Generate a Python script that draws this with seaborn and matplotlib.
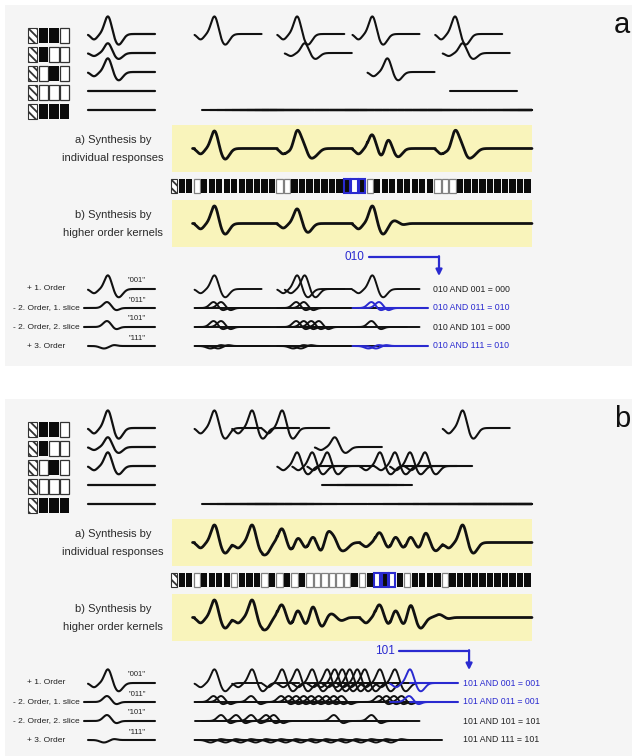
import numpy as np
import matplotlib
matplotlib.use("Agg")
import matplotlib.pyplot as plt
from matplotlib.patches import Rectangle
import seaborn as sns

# ---------------- data ----------------
# frame sequences: 1 = bright frame, 0 = dark frame (frame 0 is the hatched start marker)
seq_a = [0, 0, 0, 1, 0, 0, 0, 0, 0, 0,
         0, 0, 0, 0, 1, 1, 0, 0, 0, 0,
         0, 0, 0, 0, 1, 0, 1, 0, 0, 0,
         0, 0, 0, 0, 0, 1, 1, 1, 0, 0,
         0, 0, 0, 0, 0, 0, 0, 0]
seq_b = [0, 0, 0, 1, 0, 0, 0, 0, 1, 0,
         0, 0, 1, 0, 1, 0, 1, 0, 1, 1,
         1, 1, 1, 1, 0, 1, 0, 1, 0, 1,
         0, 1, 0, 0, 0, 0, 1, 0, 0, 0,
         0, 0, 0, 0, 0, 0, 0, 0]
window_a = [23, 24, 25]
window_b = [27, 28, 29]
window_label_a = "010"
window_label_b = "101"

# individual response rows: triplet pattern and peak height of its response
patterns = ["001", "011", "101", "111", "000"]
response_peak = [18, 10, 14, 0, 0]

# synthesis by higher order kernels: first-order onsets (frame index) and peak heights,
# plus the small residual bumps left by the higher orders
synth_b_frames_a = [3, 14, 24]
synth_b_peaks_a = [18, 15, 18]
synth_b_bump_frames_a = [27]
synth_b_bump_peaks_a = [3]
synth_b_frames_b = [3, 8, 12, 14, 16, 18, 25, 27, 29]
synth_b_peaks_b = [18, 18, 18, 18, 18, 5, 18, 18, 18]
synth_b_bump_frames_b = [19, 33]
synth_b_bump_peaks_b = [4, 3]

# kernel orders
order_labels = ["+ 1. Order", "- 2. Order, 1. slice", "- 2. Order, 2. slice", "+ 3. Order"]
order_names = ['"001"', '"011"', '"101"', '"111"']
order_peaks = [14, 6, 6, 2.5]

# kernel contributions per order row (frame indices): plain and highlighted
contrib_a = [[3, 14, 15, 24], [3, 4, 14, 15], [3, 4, 14, 15, 16, 17, 24], [3, 4, 14, 15]]
contrib_a_hi = [[], [24, 25], [], [24, 25]]
contrib_b = [[3, 8, 12, 14, 16, 18, 19, 20, 21, 22, 23, 25, 27],
             [3, 4, 8, 12, 13, 14, 15, 16, 17, 18, 19, 20, 25, 26, 27, 28],
             [4, 6, 8, 10, 11, 19, 24],
             [3, 5, 7, 9, 11, 13, 15, 17, 19, 21, 23, 25, 27]]
contrib_b_hi = [[29], [29], [], []]

and_text_a = ["010 AND 001 = 000", "010 AND 011 = 010", "010 AND 101 = 000", "010 AND 111 = 010"]
and_text_b = ["101 AND 001 = 001", "101 AND 011 = 001", "101 AND 101 = 101", "101 AND 111 = 101"]
and_hit_a = [False, True, False, True]
and_hit_b = [True, True, False, False]

# ---------------- style ----------------
INK = "#111111"
BLUE = "#2a2ad0"
PANEL_BG = "#f5f5f5"
YELLOW = "#f9f4bb"

sns.set_theme(style="white")
plt.rcParams["font.family"] = ["Liberation Sans", "DejaVu Sans"]
plt.rcParams["hatch.linewidth"] = 1.3

fig = plt.figure(figsize=(6.32, 7.56), dpi=100)
ax = fig.add_axes([0, 0, 1, 1])
ax.set_axis_off()

# layout (pixel space, y downwards)
ROW_Y = [34, 53, 72, 91, 110]
ICON_X, ICON_PITCH, ICON_W, ICON_H = 28, 10.6, 9.3, 15
KER_X0, KER_X1 = 88, 155
STRIP_X0, PITCH, CELL_W = 171, 7.52, 6.3
STRIP_Y, STRIP_H = 179, 14
BOX_X0, BOX_X1 = 172, 532
BOX_A = (125, 172)
BOX_B = (200, 247)
ORDER_Y = [289, 308, 327, 346]
KLEN = 67
LW = 1.5


def g(t, mu, s):
    return np.exp(-0.5 * ((t - mu) / s) ** 2)


def k_first(t):
    return -0.3 * g(t, 6, 3.2) + g(t, 20, 3.5) - 0.6 * g(t, 30.5, 4.2)


def k_slice(t):
    return g(t, 19, 3.8) - 0.4 * g(t, 28, 3.2)


def k_third(t):
    return -g(t, 16, 4) + 0.4 * g(t, 26, 3)


order_shapes = [k_first, k_slice, k_slice, k_third]


def fx(i):
    return STRIP_X0 + i * PITCH + 1


def trace(x, y, color=INK, lw=LW, z=3):
    sns.lineplot(x=x, y=y, ax=ax, color=color, linewidth=lw, sort=False,
                 estimator=None, legend=False, zorder=z)


def kernel_trace(x0, base, peak, shape, color=INK, lw=LW, x_end=None, z=3):
    x1 = x0 + KLEN if x_end is None else x_end
    x = np.linspace(x0, x1, int((x1 - x0) * 3) + 2)
    trace(x, base - peak * shape(x - x0), color, lw, z)


def occurrences(seq, pat):
    if pat == "000":  # dark current frame: flat response
        return [i for i in range(3, len(seq)) if seq[i] == 0]
    bits = [int(c) for c in pat]
    return [i for i in range(3, len(seq)) if seq[i - 2:i + 1] == bits]


def summed(xs, frames, peaks, shape):
    y = np.zeros_like(xs)
    for i, p in zip(frames, peaks):
        t = xs - fx(i)
        y += np.where((t >= 0) & (t <= KLEN), p * shape(t), 0)
    return y


def draw_cell(x, y, w, h, kind, edge=None, lw=0.9):
    if kind == "hatch":
        ax.add_patch(Rectangle((x, y), w, h, facecolor="white", edgecolor="#333333",
                               hatch="\\\\\\\\", lw=0.8, zorder=4))
    elif kind == 1:
        ax.add_patch(Rectangle((x, y), w, h, facecolor="white",
                               edgecolor=edge or "#808080", lw=lw, zorder=4))
    else:
        ax.add_patch(Rectangle((x, y), w, h, facecolor="#0b0b0b",
                               edgecolor=edge or "none", lw=lw, zorder=4))


def panel(dy, seq, window, wlabel, sb, contrib, contrib_hi, and_text, and_hit, tag):
    ax.add_patch(Rectangle((5, 5 + dy), 627, 361, facecolor=PANEL_BG, edgecolor="none", zorder=0))
    ax.text(622, 33 + dy, tag, fontsize=21, color=INK, ha="center", va="baseline")

    # pattern icons, kernels and individual responses
    for r, pat in enumerate(patterns):
        y = ROW_Y[r] + dy
        draw_cell(ICON_X, y - ICON_H / 2 + 1, ICON_W, ICON_H, "hatch")
        for c, b in enumerate(pat):
            draw_cell(ICON_X + (c + 1) * ICON_PITCH, y - ICON_H / 2 + 1, ICON_W, ICON_H,
                      int(b), edge="#333333" if b == "1" else None)
        kernel_trace(KER_X0, y, response_peak[r], k_first, x_end=KER_X1, lw=1.6)
        for i in occurrences(seq, pat):
            x0 = fx(i)
            kernel_trace(x0, y, response_peak[r], k_first, x_end=min(x0 + KLEN, BOX_X1))

    # synthesis boxes
    for (y0, y1) in (BOX_A, BOX_B):
        ax.add_patch(Rectangle((BOX_X0, y0 + dy), BOX_X1 - BOX_X0, y1 - y0,
                               facecolor=YELLOW, edgecolor="none", zorder=1))
    for ty, s in ((140, "a) Synthesis by"), (158, "individual responses"),
                  (215, "b) Synthesis by"), (233, "higher order kernels")):
        ax.text(113, ty + dy, s, fontsize=8, color="#2a2a2a", ha="center", va="center")

    xs = np.linspace(fx(3) - 2, BOX_X1, 1400)
    base_a = (BOX_A[0] + BOX_A[1]) / 2 + dy
    ya = np.zeros_like(xs)
    for r, pat in enumerate(patterns):
        occ = occurrences(seq, pat)
        ya += summed(xs, occ, [response_peak[r]] * len(occ), k_first)
    trace(xs, base_a - ya, lw=2.0)

    base_b = (BOX_B[0] + BOX_B[1]) / 2 + dy
    yb = summed(xs, sb[0], sb[1], k_first) + summed(xs, sb[2], sb[3], k_slice)
    trace(xs, base_b - yb, lw=2.0)

    # frame strip
    for i, b in enumerate(seq):
        x = STRIP_X0 + i * PITCH
        kind = "hatch" if i == 0 else b
        edge = BLUE if i in window else None
        draw_cell(x, STRIP_Y + dy, CELL_W, STRIP_H, kind, edge=edge, lw=1.5 if edge else 0.9)

    # kernel order rows
    cur = window[-1]
    text_x = fx(cur) + KLEN + 6
    wx = STRIP_X0 + window[1] * PITCH + CELL_W / 2
    ay = 257 + dy
    ax.text(wx, ay, wlabel, fontsize=8.5, color=BLUE, ha="center", va="center")
    ax.plot([wx + 14, text_x + 6], [ay, ay], color=BLUE, lw=1.6, zorder=5)
    ax.annotate("", xy=(text_x + 6, ay + 19), xytext=(text_x + 6, ay - 0.8),
                arrowprops=dict(arrowstyle="-|>", color=BLUE, lw=1.6, mutation_scale=9,
                                shrinkA=0, shrinkB=0), zorder=5)
    for r in range(4):
        y = ORDER_Y[r] + dy
        shape = order_shapes[r]
        ax.text(46, y, order_labels[r], fontsize=6, color="#222222", ha="center", va="center")
        ax.text(137, y - 8, order_names[r], fontsize=5.5, color="#222222", ha="center", va="center")
        off = 4 if r in (1, 2) else 0
        kernel_trace(KER_X0 - off, y, order_peaks[r],
                     lambda t, s=shape, o=off: s(t - o), x_end=KER_X1)
        cells = contrib[r]
        hi = contrib_hi[r]
        if r > 0:
            last = max(cells + hi)
            trace(np.array([fx(3), fx(last) + KLEN - 12]), np.array([y, y]), lw=1.4)
        for i in cells:
            kernel_trace(fx(i), y, order_peaks[r], shape, lw=1.4)
        for i in hi:
            kernel_trace(fx(i), y, order_peaks[r], shape, color=BLUE, lw=1.4, z=4)
        if and_hit[r] and hi:
            trace(np.array([fx(hi[-1]) + 20, text_x - 5]), np.array([y, y]), color=BLUE, lw=1.5, z=4)
        ax.text(text_x, y, and_text[r], fontsize=6.3, color=BLUE if and_hit[r] else "#222222",
                ha="left", va="center")


panel(0, seq_a, window_a, window_label_a,
      (synth_b_frames_a, synth_b_peaks_a, synth_b_bump_frames_a, synth_b_bump_peaks_a),
      contrib_a, contrib_a_hi, and_text_a, and_hit_a, "a")
panel(394, seq_b, window_b, window_label_b,
      (synth_b_frames_b, synth_b_peaks_b, synth_b_bump_frames_b, synth_b_bump_peaks_b),
      contrib_b, contrib_b_hi, and_text_b, and_hit_b, "b")

ax.set_xlim(0, 632)
ax.set_ylim(756, 0)
fig.savefig("out.png", dpi=100, facecolor="white")
